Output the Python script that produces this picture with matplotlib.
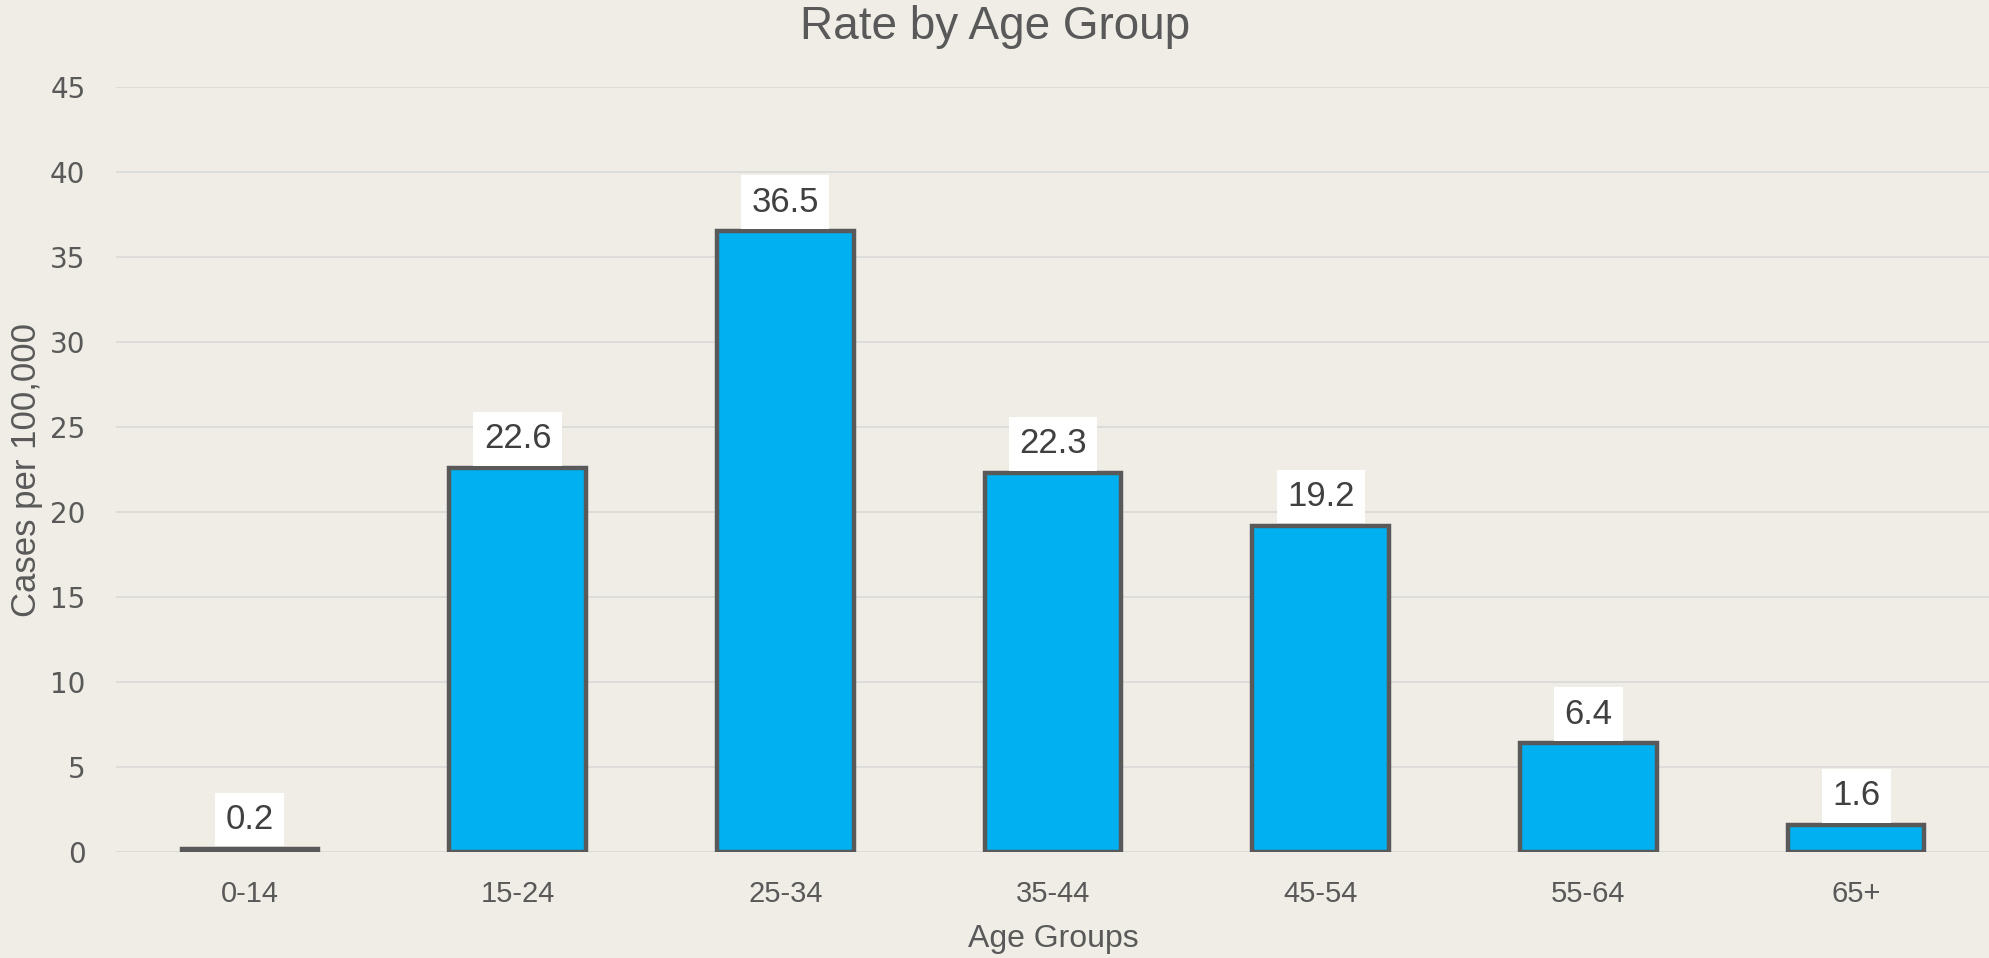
import matplotlib
matplotlib.use("Agg")
import matplotlib.pyplot as plt

categories = ["0-14", "15-24", "25-34", "35-44", "45-54", "55-64", "65+"]
rates = [0.2, 22.6, 36.5, 22.3, 19.2, 6.4, 1.6]
y_ticks = [0, 5, 10, 15, 20, 25, 30, 35, 40, 45]

bg = "#EFEDE5"
bar_color = "#00B0F0"
edge_color = "#595959"
text_color = "#595959"
regular = ["Liberation Sans", "DejaVu Sans"]
wide = ["DejaVu Sans"]

fig = plt.figure(figsize=(19.9, 9.58), dpi=100, facecolor=bg)
ax = fig.add_axes([0.0583, 0.1106, 0.9417, 0.7986], facecolor=bg)

x = list(range(len(categories)))
bars = ax.bar(x, rates, width=0.51, color=bar_color, edgecolor=edge_color,
              linewidth=3.2, zorder=3)

for xi, v in zip(x, rates):
    ax.annotate(f"{v:.1f}", xy=(xi, v), xytext=(0, 21), textcoords="offset points",
                ha="center", va="center", fontsize=25, color="#404040",
                family=regular,
                bbox=dict(boxstyle="square,pad=0.3", facecolor="white", edgecolor="none"),
                zorder=4)

ax.set_xlim(-0.5, len(categories) - 0.5)
ax.set_ylim(0, 45)
ax.set_yticks(y_ticks)
ax.set_xticks(x)
ax.set_xticklabels(categories)
ax.yaxis.grid(True, color="#D9D9D9", linewidth=1.2, zorder=0)
ax.set_axisbelow(True)
for s in ax.spines.values():
    s.set_visible(False)
ax.tick_params(axis="both", length=0, labelsize=21, labelcolor=text_color)
ax.tick_params(axis="y", pad=22)
ax.tick_params(axis="x", pad=20)
for lab in ax.get_xticklabels():
    lab.set_family(regular)
for lab in ax.get_yticklabels():
    lab.set_family(wide)
    lab.set_fontsize(20)

ax.set_xlabel("Age Groups", fontsize=23, color=text_color, family=regular, labelpad=12)
ax.set_ylabel("Cases per 100,000", fontsize=25, color=text_color, family=regular, labelpad=5)
fig.text(0.5, 0.972, "Rate by Age Group", ha="center", va="center",
         fontsize=33, color=text_color, family=regular)

fig.savefig("out.png", dpi=100, facecolor=bg)
